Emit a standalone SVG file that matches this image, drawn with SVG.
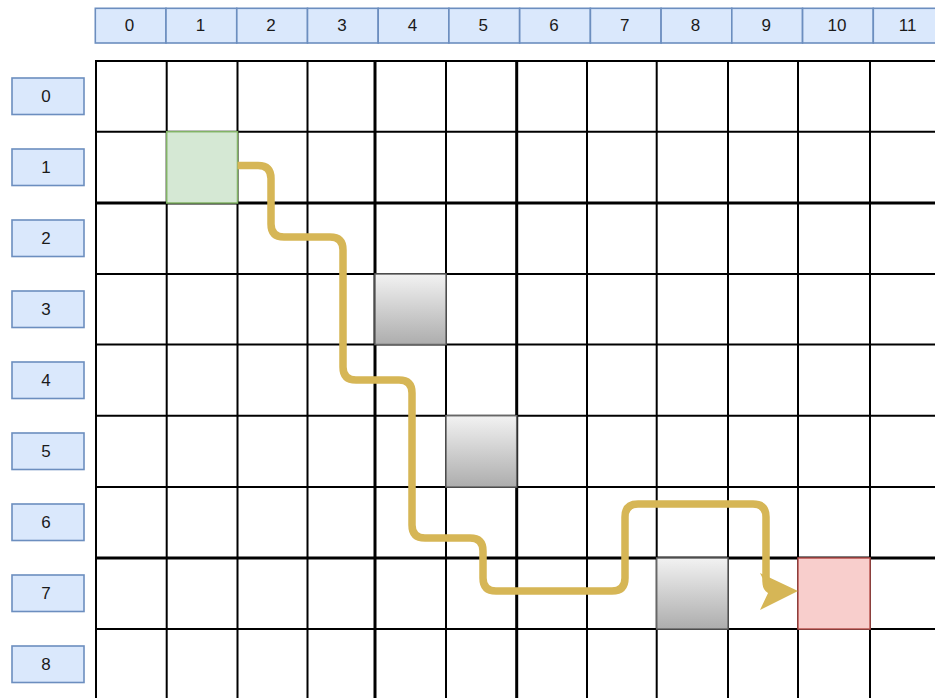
<svg xmlns="http://www.w3.org/2000/svg" width="935" height="698" viewBox="0 0 935 698">
<defs>
<linearGradient id="gray" x1="0" y1="0" x2="0" y2="1">
<stop offset="0" stop-color="#f2f2f2"/>
<stop offset="1" stop-color="#adadad"/>
</linearGradient>
<marker id="arrow" viewBox="0 0 40 40" markerWidth="40" markerHeight="40" refX="16" refY="20" orient="auto" markerUnits="userSpaceOnUse">
<path d="M0 2 L38 20 L0 39 L9 20 Z" fill="#d6b656"/>
</marker>
</defs>
<style>
.hdr{fill:#dae8fc;stroke:#6c8ebf;stroke-width:1.6}
.lbl{font-family:"Liberation Sans",Arial,sans-serif;font-size:17px;fill:#1a1a1a;text-anchor:middle;dominant-baseline:central}
.grid line{stroke:#000;stroke-width:2}
.grid line.thick{stroke-width:3}
.obst{fill:url(#gray);stroke:#666;stroke-width:1.5}
.start{fill:#d5e8d4;stroke:#82b366;stroke-width:1.5}
.goal{fill:#f8cecc;stroke:#b85450;stroke-width:1.5}
.route{fill:none;stroke:#d6b656;stroke-width:7.5;stroke-linejoin:round}
</style>
<rect width="935" height="698" fill="#fff"/>
<g id="grid" class="grid">
<line x1="96" y1="61" x2="96" y2="698"/>
<line x1="166.7" y1="61" x2="166.7" y2="698"/>
<line x1="237.5" y1="61" x2="237.5" y2="698"/>
<line x1="307.5" y1="61" x2="307.5" y2="698"/>
<line class="thick" x1="375" y1="61" x2="375" y2="698"/>
<line x1="446" y1="61" x2="446" y2="698"/>
<line class="thick" x1="516.7" y1="61" x2="516.7" y2="698"/>
<line x1="587" y1="61" x2="587" y2="698"/>
<line x1="656.7" y1="61" x2="656.7" y2="698"/>
<line x1="728" y1="61" x2="728" y2="698"/>
<line x1="798" y1="61" x2="798" y2="698"/>
<line x1="870" y1="61" x2="870" y2="698"/>
<line x1="95" y1="61" x2="935" y2="61"/>
<line x1="95" y1="131.7" x2="935" y2="131.7"/>
<line class="thick" x1="95" y1="203" x2="935" y2="203"/>
<line x1="95" y1="274" x2="935" y2="274"/>
<line x1="95" y1="344.5" x2="935" y2="344.5"/>
<line x1="95" y1="415.7" x2="935" y2="415.7"/>
<line x1="95" y1="487" x2="935" y2="487"/>
<line class="thick" x1="95" y1="558" x2="935" y2="558"/>
<line x1="95" y1="629" x2="935" y2="629"/>
</g>
<g id="cell-start"><rect class="start" x="166.7" y="131.7" width="70.8" height="71.3"/></g>
<g id="cell-obstacle-4-3"><rect class="obst" x="375" y="274" width="71" height="70.5"/></g>
<g id="cell-obstacle-5-5"><rect class="obst" x="446" y="415.7" width="70.7" height="71.3"/></g>
<g id="cell-obstacle-8-7"><rect class="obst" x="656.7" y="558" width="71.3" height="71"/></g>
<g id="cell-goal"><rect class="goal" x="798" y="558" width="72" height="71"/></g>
<g id="col-headers">
<g id="col-0"><rect class="hdr" x="95.3" y="8.3" width="70.7" height="34.7"/><text class="lbl" x="129.5" y="25.7">0</text></g>
<g id="col-1"><rect class="hdr" x="166" y="8.3" width="70.7" height="34.7"/><text class="lbl" x="200.4" y="25.7">1</text></g>
<g id="col-2"><rect class="hdr" x="236.8" y="8.3" width="70.7" height="34.7"/><text class="lbl" x="271.1" y="25.7">2</text></g>
<g id="col-3"><rect class="hdr" x="307.5" y="8.3" width="70.7" height="34.7"/><text class="lbl" x="341.9" y="25.7">3</text></g>
<g id="col-4"><rect class="hdr" x="378.2" y="8.3" width="70.7" height="34.7"/><text class="lbl" x="412.6" y="25.7">4</text></g>
<g id="col-5"><rect class="hdr" x="448.9" y="8.3" width="70.7" height="34.7"/><text class="lbl" x="483.3" y="25.7">5</text></g>
<g id="col-6"><rect class="hdr" x="519.7" y="8.3" width="70.7" height="34.7"/><text class="lbl" x="554" y="25.7">6</text></g>
<g id="col-7"><rect class="hdr" x="590.4" y="8.3" width="70.7" height="34.7"/><text class="lbl" x="624.7" y="25.7">7</text></g>
<g id="col-8"><rect class="hdr" x="661.1" y="8.3" width="70.7" height="34.7"/><text class="lbl" x="695.5" y="25.7">8</text></g>
<g id="col-9"><rect class="hdr" x="731.8" y="8.3" width="70.7" height="34.7"/><text class="lbl" x="766.2" y="25.7">9</text></g>
<g id="col-10"><rect class="hdr" x="802.6" y="8.3" width="70.7" height="34.7"/><text class="lbl" x="836.9" y="25.7">10</text></g>
<g id="col-11"><rect class="hdr" x="873.3" y="8.3" width="70.7" height="34.7"/><text class="lbl" x="907.6" y="25.7">11</text></g>
</g>
<g id="row-headers">
<g id="row-0"><rect class="hdr" x="12" y="78" width="72" height="36.5"/><text class="lbl" x="46" y="96.3">0</text></g>
<g id="row-1"><rect class="hdr" x="12" y="149" width="72" height="36.5"/><text class="lbl" x="46" y="167.3">1</text></g>
<g id="row-2"><rect class="hdr" x="12" y="220" width="72" height="36.5"/><text class="lbl" x="46" y="238.3">2</text></g>
<g id="row-3"><rect class="hdr" x="12" y="291" width="72" height="36.5"/><text class="lbl" x="46" y="309.3">3</text></g>
<g id="row-4"><rect class="hdr" x="12" y="362" width="72" height="36.5"/><text class="lbl" x="46" y="380.3">4</text></g>
<g id="row-5"><rect class="hdr" x="12" y="433" width="72" height="36.5"/><text class="lbl" x="46" y="451.3">5</text></g>
<g id="row-6"><rect class="hdr" x="12" y="504" width="72" height="36.5"/><text class="lbl" x="46" y="522.3">6</text></g>
<g id="row-7"><rect class="hdr" x="12" y="575" width="72" height="36.5"/><text class="lbl" x="46" y="593.3">7</text></g>
<g id="row-8"><rect class="hdr" x="12" y="646" width="72" height="36.5"/><text class="lbl" x="46" y="664.3">8</text></g>
</g>
<g id="connectors">
<path class="route" marker-end="url(#arrow)" d="M237.5 165.5 H258 Q271 165.5 271 178.5 V224 Q271 237 284 237 H330 Q343 237 343 250 V367 Q343 380 356 380 H399 Q412 380 412 393 V525 Q412 538 425 538 H470 Q483 538 483 551 V578 Q483 591 496 591 H612 Q625 591 625 578 V517 Q625 504 638 504 H753 Q766 504 766 517 V581 Q766 591 776 591"/>
</g>
</svg>
